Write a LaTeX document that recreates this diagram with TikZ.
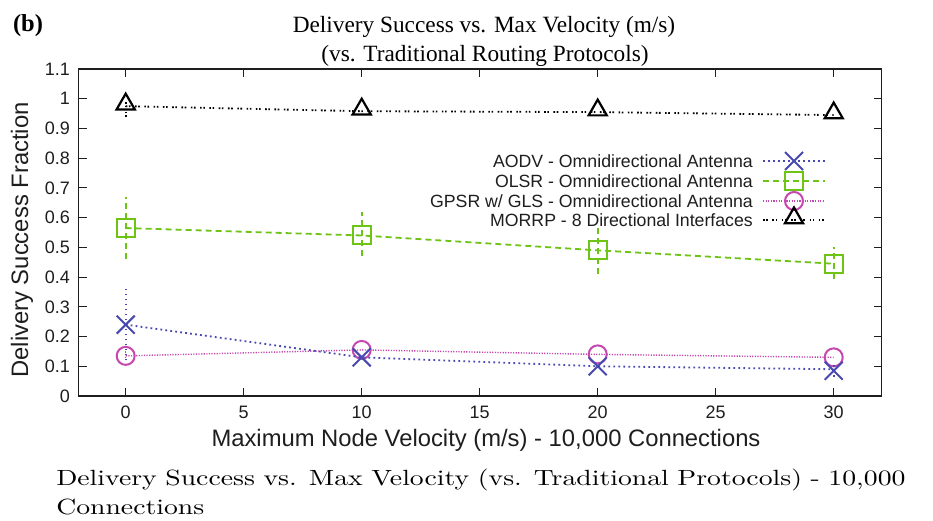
\documentclass[tikz,border=0pt]{standalone}
\usepackage{fontspec}
\newfontfamily\timesf{Liberation Serif}
\newfontfamily\helv{Liberation Sans}
\newfontfamily\capfont{lmroman10-regular.otf}
\usetikzlibrary{shapes.misc,shapes.geometric}
\definecolor{aodvc}{RGB}{72,72,176}
\definecolor{olsrc}{RGB}{110,196,20}
\definecolor{gpsrc}{RGB}{196,72,176}
\definecolor{axisc}{RGB}{30,30,30}
\tikzset{
  ticklbl/.style={font=\helv\fontsize{18}{19}\selectfont, text=axisc},
  axislbl/.style={font=\helv\fontsize{23.8}{25}\selectfont, text=axisc},
  titlelbl/.style={font=\timesf\fontsize{23.3}{25}\selectfont, anchor=base},
  legendlbl/.style={font=\helv\fontsize{17.7}{19}\selectfont, anchor=east, inner sep=0pt, text=axisc},
  aodvline/.style={draw=aodvc, line width=1.8pt, dash pattern=on 1.8pt off 3.2pt},
  olsrline/.style={draw=olsrc, line width=1.8pt, dash pattern=on 6pt off 4pt},
  gpsrline/.style={draw=gpsrc, line width=1.4pt, dash pattern=on 1.2pt off 1.4pt},
  morrpline/.style={draw=black, line width=1.8pt, dash pattern=on 1.6pt off 1.6pt on 1.6pt off 4.5pt},
  aodvmark/.style={cross out, draw=aodvc, line width=2pt, minimum size=16pt, inner sep=0pt},
  olsrmark/.style={rectangle, draw=olsrc, line width=2pt, minimum size=18pt, inner sep=0pt},
  gpsrmark/.style={circle, draw=gpsrc, line width=2pt, minimum size=18pt, inner sep=0pt},
  morrpmark/.style={regular polygon, regular polygon sides=3, draw=black, line width=2.2pt, minimum size=21pt, inner sep=0pt},
  captionlbl/.style={anchor=base west, font=\capfont\fontsize{22}{24}\selectfont, inner sep=0pt, xscale=1.26, transform shape},
}
\begin{document}
\begin{tikzpicture}[x=1pt,y=-1pt]
\useasboundingbox[fill=white] (0,0) rectangle (933,521);

% headings
\node[font=\timesf\bfseries\fontsize{24.5}{26}\selectfont] (panel) at (28,26) {(b)};
\node[titlelbl] (title1) at (484,33) {Delivery Success vs. Max Velocity (m/s)};
\node[titlelbl] (title2) at (485,62) {(vs. Traditional Routing Protocols)};

% frame and ticks
\draw[axisc, line width=1.2pt] (78.7,69) rectangle (881.7,396);
\foreach \v/\t in {0/0,1/0.1,2/0.2,3/0.3,4/0.4,5/0.5,6/0.6,7/0.7,8/0.8,9/0.9,10/1,11/1.1}{
  \pgfmathsetmacro{\yy}{396-29.727*\v}
  \draw[axisc, line width=1pt] (78.7,\yy) -- ++(8,0);
  \draw[axisc, line width=1pt] (881.7,\yy) -- ++(-8,0);
  \node[ticklbl, anchor=east, inner sep=0pt] (yt\v) at (70,\yy) {\t};
}
\foreach \v in {0,5,10,15,20,25,30}{
  \pgfmathsetmacro{\xx}{125.7+23.6*\v}
  \draw[axisc, line width=1pt] (\xx,396) -- ++(0,-8);
  \draw[axisc, line width=1pt] (\xx,69) -- ++(0,8);
  \node[ticklbl, inner sep=0pt] (xt\v) at (\xx,412) {\v};
}
\node[axislbl, rotate=90] (ylab) at (22,240) {Delivery Success Fraction};
\node[axislbl] (xlab) at (486,440) {Maximum Node Velocity (m/s) - 10,000 Connections};

% data: x = 125.7 + 23.6 v, y = 396 - 297.27 f
\begin{scope}[shift={(125.7,396)}, x=23.6pt, y=297.27pt]
  % OLSR
  \draw[olsrline] (0,0.565) -- (10,0.54) -- (20,0.49) -- (30,0.445);
  \draw[olsrline] (0,0.46) -- (0,0.67);
  \draw[olsrline] (10,0.47) -- (10,0.62);
  \draw[olsrline] (20,0.41) -- (20,0.57);
  \draw[olsrline] (30,0.395) -- (30,0.50);
  \foreach \xv/\yv in {0/0.565,10/0.54,20/0.49,30/0.445}
    \node[olsrmark] at (\xv,\yv) {};
  % MORRP
  \draw[morrpline] (0,0.975) -- (10,0.958) -- (20,0.955) -- (30,0.945);
  \draw[morrpline] (0,0.94) -- (0,0.99);
  \foreach \xv/\yv in {0/0.975,10/0.958,20/0.955,30/0.945}
    \node[morrpmark, yshift=2pt] at (\xv,\yv) {};
  % GPSR
  \draw[gpsrline] (0,0.135) -- (10,0.155) -- (20,0.14) -- (30,0.13);
  \draw[gpsrline] (0,0.12) -- (0,0.15);
  \foreach \xv/\yv in {0/0.135,10/0.155,20/0.14,30/0.13}
    \node[gpsrmark] at (\xv,\yv) {};
  % AODV
  \draw[aodvline] (0,0.24) -- (10,0.13) -- (20,0.10) -- (30,0.09);
  \draw[aodvline] (0,0.12) -- (0,0.36);
  \draw[aodvline] (30,0.065) -- (30,0.11);
  \foreach \xv/\yv in {0/0.24,10/0.13,20/0.10,30/0.085}
    \node[aodvmark] at (\xv,\yv) {};
\end{scope}

% legend
\node[legendlbl] (l1) at (753,161) {AODV - Omnidirectional Antenna};
\node[legendlbl] (l2) at (753,181) {OLSR - Omnidirectional Antenna};
\node[legendlbl] (l3) at (753,201) {GPSR w/ GLS - Omnidirectional Antenna};
\node[legendlbl] (l4) at (753,220) {MORRP - 8 Directional Interfaces};
\draw[aodvline] (763,161) -- (825,161);
\node[aodvmark] (m1) at (794,161) {};
\draw[olsrline] (763,181) -- (825,181);
\node[olsrmark] (m2) at (794,181) {};
\draw[gpsrline] (763,201) -- (825,201);
\node[gpsrmark] (m3) at (794,201) {};
\draw[morrpline] (763,220) -- (825,220);
\node[morrpmark, yshift=2pt] (m4) at (794,220) {};

% caption, set wide and justified over the full line width
\node[captionlbl] (cap1) at (56,485) {\makebox[674pt][s]{Delivery Success vs. Max Velocity (vs. Traditional Protocols) - 10,000}};
\node[captionlbl] (cap2) at (56,514) {Connections};
\end{tikzpicture}
\end{document}
